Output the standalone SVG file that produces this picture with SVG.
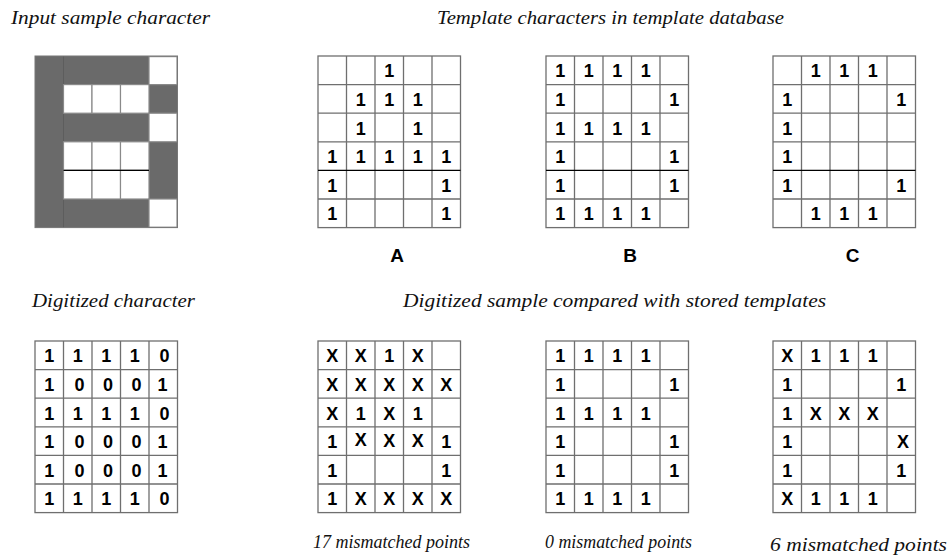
<svg xmlns="http://www.w3.org/2000/svg" width="949" height="556" viewBox="0 0 949 556">
  <style>
    .title { font-family: "Liberation Serif", "Times New Roman", serif; font-style: italic; font-size: 18.5px; fill: #111; }
    .caption { font-family: "Liberation Serif", "Times New Roman", serif; font-style: italic; font-size: 18px; fill: #111; }
    .cell { font-family: "Liberation Sans", Arial, sans-serif; font-weight: bold; font-size: 18px; fill: #000; text-anchor: middle; }
    .letter { font-family: "Liberation Sans", Arial, sans-serif; font-weight: bold; font-size: 19px; fill: #000; text-anchor: middle; }
    .grid { fill: none; stroke: #6f6f6f; stroke-width: 1.3; }
    .dark { fill: none; stroke: #000; stroke-width: 1.2; }
    .ink { fill: #6a6a6a; }
    .hole { fill: #fff; stroke: #8a8a8a; stroke-width: 1.2; }
  </style>
  <rect width="949" height="556" fill="#fff"/>

  <!-- headings -->
  <g id="headings">
    <text class="title" x="11" y="24" textLength="199" lengthAdjust="spacingAndGlyphs">Input sample character</text>
    <text class="title" x="437" y="24" textLength="347" lengthAdjust="spacingAndGlyphs">Template characters in template database</text>
    <text class="title" x="32" y="307" textLength="163" lengthAdjust="spacingAndGlyphs">Digitized character</text>
    <text class="title" x="403" y="307" textLength="423" lengthAdjust="spacingAndGlyphs">Digitized sample compared with stored templates</text>
  </g>

  <!-- scanned input character: dark pixels with white gaps -->
  <g id="input-sample">
    <rect class="ink" x="35" y="56" width="142.5" height="171.6"/>
    <line x1="63.5" y1="56" x2="63.5" y2="227.6" stroke="#5a5a5a" stroke-width="0.8"/>
    <rect class="hole" x="149" y="56.6" width="28" height="28"/>
    <rect class="hole" x="63.5" y="84.6" width="28.5" height="28.6"/>
    <rect class="hole" x="92" y="84.6" width="28.5" height="28.6"/>
    <rect class="hole" x="120.5" y="84.6" width="28.5" height="28.6"/>
    <rect class="hole" x="149" y="113.2" width="28" height="28.6"/>
    <rect class="hole" x="63.5" y="141.8" width="28.5" height="28.6"/>
    <rect class="hole" x="92" y="141.8" width="28.5" height="28.6"/>
    <rect class="hole" x="120.5" y="141.8" width="28.5" height="28.6"/>
    <rect class="hole" x="63.5" y="170.4" width="28.5" height="28.6"/>
    <rect class="hole" x="92" y="170.4" width="28.5" height="28.6"/>
    <rect class="hole" x="120.5" y="170.4" width="28.5" height="28.6"/>
    <rect class="hole" x="149" y="199" width="28" height="28.2"/>
    <line class="dark" x1="63.5" y1="170.4" x2="149" y2="170.4"/>
    <rect x="35" y="56" width="142.5" height="171.6" fill="none" stroke="#777" stroke-width="1"/>
  </g>

  <!-- template A -->
  <g id="template-a">
    <rect class="grid" x="318" y="56" width="142.5" height="171.6"/>
    <path class="grid" d="M346.5 56V227.6M375 56V227.6M403.5 56V227.6M432 56V227.6M318 84.6H460.5M318 113.2H460.5M318 141.8H460.5M318 199H460.5"/>
    <line class="dark" x1="318" y1="170.4" x2="460.5" y2="170.4"/>
    <text class="cell" x="389.25" y="77.3">1</text>
    <text class="cell" x="360.75" y="105.9">1</text><text class="cell" x="389.25" y="105.9">1</text><text class="cell" x="417.75" y="105.9">1</text>
    <text class="cell" x="360.75" y="134.5">1</text><text class="cell" x="417.75" y="134.5">1</text>
    <text class="cell" x="332.25" y="163.1">1</text><text class="cell" x="360.75" y="163.1">1</text><text class="cell" x="389.25" y="163.1">1</text><text class="cell" x="417.75" y="163.1">1</text><text class="cell" x="446.25" y="163.1">1</text>
    <text class="cell" x="332.25" y="191.7">1</text><text class="cell" x="446.25" y="191.7">1</text>
    <text class="cell" x="332.25" y="220.3">1</text><text class="cell" x="446.25" y="220.3">1</text>
    <text class="letter" x="397" y="262">A</text>
  </g>

  <!-- template B -->
  <g id="template-b">
    <rect class="grid" x="546" y="56" width="142.5" height="171.6"/>
    <path class="grid" d="M574.5 56V227.6M603 56V227.6M631.5 56V227.6M660 56V227.6M546 84.6H688.5M546 113.2H688.5M546 141.8H688.5M546 199H688.5"/>
    <line class="dark" x1="546" y1="170.4" x2="688.5" y2="170.4"/>
    <text class="cell" x="560.25" y="77.3">1</text><text class="cell" x="588.75" y="77.3">1</text><text class="cell" x="617.25" y="77.3">1</text><text class="cell" x="645.75" y="77.3">1</text>
    <text class="cell" x="560.25" y="105.9">1</text><text class="cell" x="674.25" y="105.9">1</text>
    <text class="cell" x="560.25" y="134.5">1</text><text class="cell" x="588.75" y="134.5">1</text><text class="cell" x="617.25" y="134.5">1</text><text class="cell" x="645.75" y="134.5">1</text>
    <text class="cell" x="560.25" y="163.1">1</text><text class="cell" x="674.25" y="163.1">1</text>
    <text class="cell" x="560.25" y="191.7">1</text><text class="cell" x="674.25" y="191.7">1</text>
    <text class="cell" x="560.25" y="220.3">1</text><text class="cell" x="588.75" y="220.3">1</text><text class="cell" x="617.25" y="220.3">1</text><text class="cell" x="645.75" y="220.3">1</text>
    <text class="letter" x="630" y="262">B</text>
  </g>

  <!-- template C -->
  <g id="template-c">
    <rect class="grid" x="773" y="56" width="142.5" height="171.6"/>
    <path class="grid" d="M801.5 56V227.6M830 56V227.6M858.5 56V227.6M887 56V227.6M773 84.6H915.5M773 113.2H915.5M773 141.8H915.5M773 199H915.5"/>
    <line class="dark" x1="773" y1="170.4" x2="915.5" y2="170.4"/>
    <text class="cell" x="815.75" y="77.3">1</text><text class="cell" x="844.25" y="77.3">1</text><text class="cell" x="872.75" y="77.3">1</text>
    <text class="cell" x="787.25" y="105.9">1</text><text class="cell" x="901.25" y="105.9">1</text>
    <text class="cell" x="787.25" y="134.5">1</text>
    <text class="cell" x="787.25" y="163.1">1</text>
    <text class="cell" x="787.25" y="191.7">1</text><text class="cell" x="901.25" y="191.7">1</text>
    <text class="cell" x="815.75" y="220.3">1</text><text class="cell" x="844.25" y="220.3">1</text><text class="cell" x="872.75" y="220.3">1</text>
    <text class="letter" x="852.5" y="262">C</text>
  </g>

  <!-- digitized sample -->
  <g id="digitized">
    <rect class="grid" x="35" y="341" width="142.5" height="171.6" stroke="#333"/>
    <path class="grid" stroke="#333" d="M63.5 341V512.6M92 341V512.6M120.5 341V512.6M149 341V512.6M35 369.6H177.5M35 398.2H177.5M35 426.8H177.5M35 455.4H177.5M35 484H177.5"/>
    <text class="cell" x="49.25" y="362.3">1</text><text class="cell" x="77.75" y="362.3">1</text><text class="cell" x="106.25" y="362.3">1</text><text class="cell" x="134.75" y="362.3">1</text><text class="cell" x="164.5" y="362.3">0</text>
    <text class="cell" x="49.25" y="390.9">1</text><text class="cell" x="79.5" y="390.9">0</text><text class="cell" x="108" y="390.9">0</text><text class="cell" x="136.5" y="390.9">0</text><text class="cell" x="162.5" y="390.9">1</text>
    <text class="cell" x="49.25" y="419.5">1</text><text class="cell" x="77.75" y="419.5">1</text><text class="cell" x="106.25" y="419.5">1</text><text class="cell" x="134.75" y="419.5">1</text><text class="cell" x="164.5" y="419.5">0</text>
    <text class="cell" x="49.25" y="448.1">1</text><text class="cell" x="79.5" y="448.1">0</text><text class="cell" x="108" y="448.1">0</text><text class="cell" x="136.5" y="448.1">0</text><text class="cell" x="162.5" y="448.1">1</text>
    <text class="cell" x="49.25" y="476.7">1</text><text class="cell" x="79.5" y="476.7">0</text><text class="cell" x="108" y="476.7">0</text><text class="cell" x="136.5" y="476.7">0</text><text class="cell" x="162.5" y="476.7">1</text>
    <text class="cell" x="49.25" y="505.3">1</text><text class="cell" x="77.75" y="505.3">1</text><text class="cell" x="106.25" y="505.3">1</text><text class="cell" x="134.75" y="505.3">1</text><text class="cell" x="164.5" y="505.3">0</text>
  </g>

  <!-- comparison with template A -->
  <g id="compare-a">
    <rect class="grid" x="318" y="341" width="142.5" height="171.6"/>
    <path class="grid" d="M346.5 341V512.6M375 341V512.6M403.5 341V512.6M432 341V512.6M318 369.6H460.5M318 398.2H460.5M318 426.8H460.5M318 455.4H460.5M318 484H460.5"/>
    <text class="cell" x="332.25" y="362.3">X</text><text class="cell" x="360.75" y="362.3">X</text><text class="cell" x="389.25" y="362.3">1</text><text class="cell" x="417.75" y="362.3">X</text>
    <text class="cell" x="332.25" y="390.9">X</text><text class="cell" x="360.75" y="390.9">X</text><text class="cell" x="389.25" y="390.9">X</text><text class="cell" x="417.75" y="390.9">X</text><text class="cell" x="446.25" y="390.9">X</text>
    <text class="cell" x="332.25" y="419.5">X</text><text class="cell" x="360.75" y="419.5">1</text><text class="cell" x="389.25" y="419.5">X</text><text class="cell" x="417.75" y="419.5">1</text>
    <text class="cell" x="332.25" y="448.1">1</text><text class="cell" x="360.75" y="446">X</text><text class="cell" x="389.25" y="447">X</text><text class="cell" x="417.75" y="447">X</text><text class="cell" x="446.25" y="448.1">1</text>
    <text class="cell" x="332.25" y="476.7">1</text><text class="cell" x="446.25" y="476.7">1</text>
    <text class="cell" x="332.25" y="505.3">1</text><text class="cell" x="360.75" y="505.3">X</text><text class="cell" x="389.25" y="505.3">X</text><text class="cell" x="417.75" y="505.3">X</text><text class="cell" x="446.25" y="505.3">X</text>
    <text class="caption" x="313" y="548" textLength="157" lengthAdjust="spacingAndGlyphs">17 mismatched points</text>
  </g>

  <!-- comparison with template B -->
  <g id="compare-b">
    <rect class="grid" x="546" y="341" width="142.5" height="171.6"/>
    <path class="grid" d="M574.5 341V512.6M603 341V512.6M631.5 341V512.6M660 341V512.6M546 369.6H688.5M546 398.2H688.5M546 426.8H688.5M546 455.4H688.5M546 484H688.5"/>
    <text class="cell" x="560.25" y="362.3">1</text><text class="cell" x="588.75" y="362.3">1</text><text class="cell" x="617.25" y="362.3">1</text><text class="cell" x="645.75" y="362.3">1</text>
    <text class="cell" x="560.25" y="390.9">1</text><text class="cell" x="674.25" y="390.9">1</text>
    <text class="cell" x="560.25" y="419.5">1</text><text class="cell" x="588.75" y="419.5">1</text><text class="cell" x="617.25" y="419.5">1</text><text class="cell" x="645.75" y="419.5">1</text>
    <text class="cell" x="560.25" y="448.1">1</text><text class="cell" x="674.25" y="448.1">1</text>
    <text class="cell" x="560.25" y="476.7">1</text><text class="cell" x="674.25" y="476.7">1</text>
    <text class="cell" x="560.25" y="505.3">1</text><text class="cell" x="588.75" y="505.3">1</text><text class="cell" x="617.25" y="505.3">1</text><text class="cell" x="645.75" y="505.3">1</text>
    <text class="caption" x="545" y="548" textLength="147" lengthAdjust="spacingAndGlyphs">0 mismatched points</text>
  </g>

  <!-- comparison with template C -->
  <g id="compare-c">
    <rect class="grid" x="773" y="341" width="142.5" height="171.6"/>
    <path class="grid" d="M801.5 341V512.6M830 341V512.6M858.5 341V512.6M887 341V512.6M773 369.6H915.5M773 398.2H915.5M773 426.8H915.5M773 455.4H915.5M773 484H915.5"/>
    <text class="cell" x="787.25" y="362.3">X</text><text class="cell" x="815.75" y="362.3">1</text><text class="cell" x="844.25" y="362.3">1</text><text class="cell" x="872.75" y="362.3">1</text>
    <text class="cell" x="787.25" y="390.9">1</text><text class="cell" x="901.25" y="390.9">1</text>
    <text class="cell" x="787.25" y="419.5">1</text><text class="cell" x="815.75" y="419.5">X</text><text class="cell" x="844.25" y="419.5">X</text><text class="cell" x="872.75" y="419.5">X</text>
    <text class="cell" x="787.25" y="448.1">1</text><text class="cell" x="903" y="448.1">X</text>
    <text class="cell" x="787.25" y="476.7">1</text><text class="cell" x="901.25" y="476.7">1</text>
    <text class="cell" x="787.25" y="505.3">X</text><text class="cell" x="815.75" y="505.3">1</text><text class="cell" x="844.25" y="505.3">1</text><text class="cell" x="872.75" y="505.3">1</text>
    <text class="caption" x="770" y="551" textLength="177" lengthAdjust="spacingAndGlyphs" font-size="19.5">6 mismatched points</text>
  </g>
</svg>
